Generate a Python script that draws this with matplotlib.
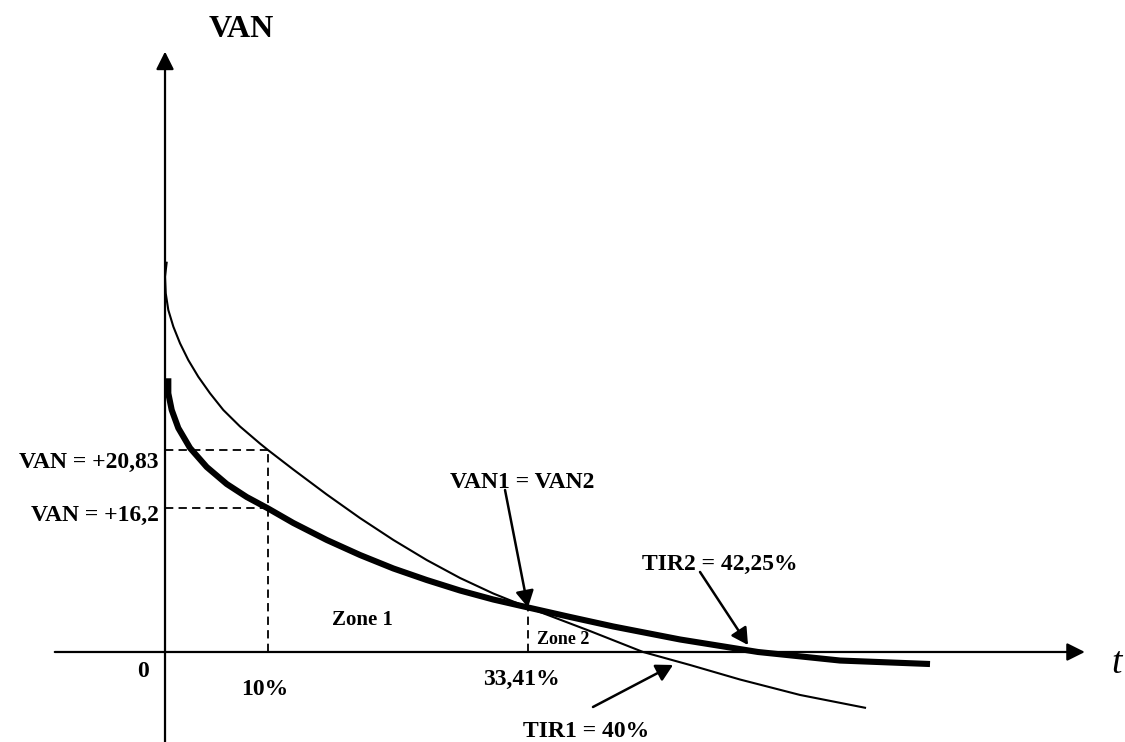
"""
VAN / TIR diagram - two NPV curves crossing (Fisher point)
"""
import matplotlib
matplotlib.use('Agg')
import matplotlib.pyplot as plt

# thin curve (project 1): taux (%) / VAN
thin_t = [0.17, 0.00, 0.07, 0.32, 0.81, 1.46, 2.26, 3.23, 4.37, 5.66, 7.28, 9.22, 10.0,
          12.46, 15.70, 18.93, 22.17, 25.41, 28.64, 31.87, 35.24, 41.26, 46.41,
          50.97, 55.83, 61.65, 68.06]
thin_van = [40.24, 38.69, 36.98, 35.26, 33.54, 31.82, 30.10, 28.38, 26.67, 24.95, 23.25, 21.49, 20.82,
            18.81, 16.24, 13.81, 11.55, 9.48, 7.63, 6.03, 4.59, 2.16, 0.0,
            -1.34, -2.84, -4.43, -5.77]

# thick curve (project 2)
thick_t = [0.32, 0.32, 0.65, 1.29, 2.43, 4.05, 5.99, 7.93, 10.0, 12.46, 15.70, 18.93,
           22.17, 25.41, 28.64, 31.87, 35.24, 39.32, 43.52, 50.00, 57.57, 65.53, 74.27]
thick_van = [28.22, 26.67, 24.95, 23.09, 21.03, 19.07, 17.32, 15.98, 14.80, 13.30, 11.55, 10.00,
             8.61, 7.42, 6.34, 5.41, 4.59, 3.61, 2.63, 1.29, 0.0, -0.88, -1.24]

# marked points
rate_10 = 10.0
van_at_10 = [20.82, 14.80]
van_labels = ['VAN = +20,83', 'VAN = +16,2']
van_label_y = [18.97, 13.5]
cross_t, cross_van = 35.24, 4.59

serif = 'Liberation Serif'

fig = plt.figure(figsize=(11.25, 7.42), dpi=100)
ax = fig.add_axes([0, 0, 1, 1])
ax.set_xlim(-16.02, 93.20)
ax.set_ylim(-9.28, 67.22)
ax.axis('off')

# axes with arrows
axis_arrow = dict(arrowstyle='-|>,head_length=0.4,head_width=0.2', lw=1.6,
                  color='black', mutation_scale=27, shrinkA=0, shrinkB=0)
ax.annotate('', xy=(89.3, 0), xytext=(-10.7, 0), arrowprops=axis_arrow)
ax.annotate('', xy=(0, 61.9), xytext=(0, -9.3), arrowprops=axis_arrow)

# curves
ax.plot(thin_t, thin_van, color='black', lw=1.5, solid_capstyle='butt',
        solid_joinstyle='round')
ax.plot(thick_t, thick_van, color='black', lw=4.4, solid_capstyle='butt',
        solid_joinstyle='round')

# dashed guides
dash = dict(color='black', lw=1.3, linestyle=(0, (4.6, 2.9)))
for v in van_at_10:
    ax.plot([0, rate_10], [v, v], **dash)
ax.plot([rate_10, rate_10], [0, max(van_at_10)], **dash)
ax.plot([cross_t, cross_t], [0, cross_van], **dash)

# texts
bold = dict(family=serif, fontweight='bold', color='black')
ax.text(7.43, 63.4, 'VAN', fontsize=23, ha='center', va='baseline', **bold)
for lab, y in zip(van_labels, van_label_y):
    ax.text(-0.6, y, lab, fontsize=17, ha='right', va='baseline', **bold)
ax.text(-2.14, -2.54, '0', fontsize=17, ha='center', va='baseline', **bold)
ax.text(9.71, -4.43, '10%', fontsize=17, ha='center', va='baseline', **bold)
ax.text(19.13, 2.78, 'Zone 1', fontsize=15, ha='center', va='baseline', **bold)
ax.text(36.12, 0.82, 'Zone 2', fontsize=13, ha='left', va='baseline', **bold)
ax.text(34.61, -3.40, '33,41%', fontsize=17, ha='center', va='baseline', **bold)
ax.text(40.92, -8.76, 'TIR1 = 40%', fontsize=17, ha='center', va='baseline', **bold)
ax.text(34.71, 16.91, 'VAN1 = VAN2', fontsize=17, ha='center', va='baseline', **bold)
ax.text(53.88, 8.45, 'TIR2 = 42,25%', fontsize=17, ha='center', va='baseline', **bold)
ax.text(91.9, -2.16, 't', fontsize=27, fontstyle='italic', family=serif,
        ha='left', va='baseline')

# pointer arrows
ptr = dict(arrowstyle='-|>,head_length=0.4,head_width=0.22', lw=1.8,
           color='black', mutation_scale=25, shrinkA=0, shrinkB=0)
ax.annotate('', xy=(cross_t, cross_van), xytext=(33.01, 16.70), arrowprops=ptr)
ax.annotate('', xy=(56.6, 0.72), xytext=(51.94, 8.25), arrowprops=ptr)
ax.annotate('', xy=(49.32, -1.34), xytext=(41.55, -5.67), arrowprops=ptr)

fig.savefig('out.png', dpi=100)
plt.close(fig)
